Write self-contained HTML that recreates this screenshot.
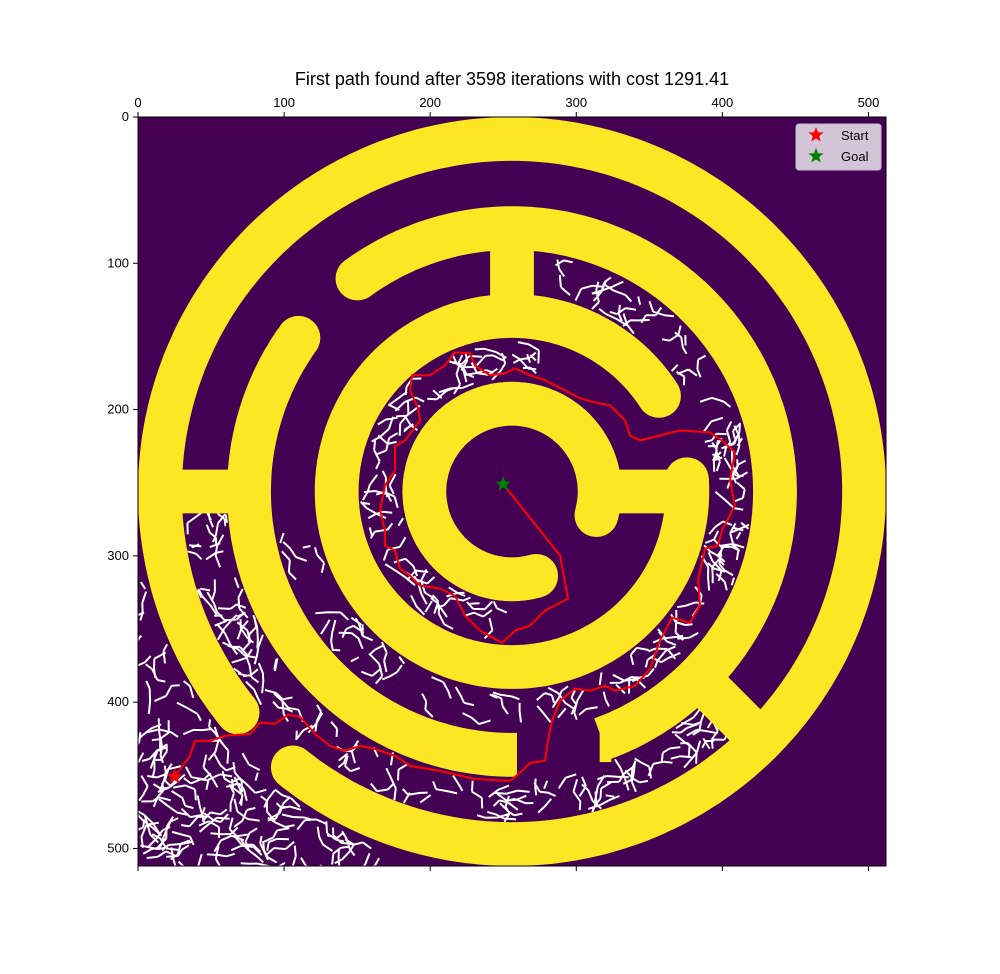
<!DOCTYPE html>
<html><head><meta charset="utf-8"><style>
body{margin:0;background:#fff;}
svg{display:block;font-family:"Liberation Sans","DejaVu Sans",sans-serif;}
</style></head><body>
<svg id="chart" width="1000" height="974" viewBox="0 0 1000 974">
<defs><clipPath id="axclip"><rect x="138" y="117" width="748" height="749"/></clipPath></defs>
<text x="512" y="85" text-anchor="middle" font-size="18" fill="#000">First path found after 3598 iterations with cost 1291.41</text>
<g id="plot" clip-path="url(#axclip)">
<rect x="138" y="117" width="748" height="749" fill="#440154"/>
<g id="tree"></g>
<g id="walls"></g>
<g id="pathg"></g>
</g>
<g id="axes"></g>
<g id="legend">
<rect x="796" y="124" width="85" height="46" rx="3" fill="#dccfe0" stroke="#cccccc" stroke-width="1" opacity="0.95"/>
<polygon id="lgs" fill="#ff0000"/>
<text x="841" y="140" font-size="13" fill="#000">Start</text>
<polygon id="lgg" fill="#008000"/>
<text x="841" y="161" font-size="13" fill="#000">Goal</text>
</g>
</svg>
<script>
const xTicks=[0,100,200,300,400,500];
const yTicks=[0,100,200,300,400,500];
const mazeCenter=[256,256];
const ringRadii=[241,180,120,60];
const wallWidth=30;
// arcs: [radiusIndex, startDeg, endDeg, startCap, endCap]
const arcs=[[0,141.2,488.5,'round','round'],[1,88.9,215.7,'butt','round'],[1,234,430.7,'round','butt'],[2,-4,327,'round','round'],[3,74,375.6,'round','round']];
const bars=[[0,256,90,256],[256,62,256,130],[320,256,378,256]];
const radialBars=[[45,175,245]];
const startPt=[25,451];
const goalPt=[250,251];
const pathX=[25,35.6,39,49.3,59.6,76.7,83.5,93.8,102.7,110.9,121.2,131.4,141.7,152,162.2,175.9,186.2,206.7,230.7,254.6,261.5,268.3,278.6,280.6,283.4,288.9,299.1,309.4,319.7,326.5,340.2,350.5,357.3,365.5,377.8,384.7,383.3,388.1,397,399.7,408.6,405.2,408.6,399.7,391.5,371,357.3,343.6,336.8,333.4,323.1,312.8,302.6,292.3,278.6,268.3,258.1,251.2,241,230.7,227.3,217,210.1,199.9,187.6,186.2,191.7,193,182.8,175.9,175.9,169.1,165.7,169.1,169.1,175.9,179.3,186.2,193,206.7,217,223.8,234.1,249.2,258.1,268.3,278.6,294.3,288.9,250];
const pathY=[451,436.7,426.5,426.5,423,421.7,414,414.8,408.7,410,421.7,429.9,433.3,429.9,432,436.7,443.6,447,452.5,453.8,448.3,441.5,440.1,426.5,412.8,399,390.9,392.2,388.8,392.2,388.8,377.2,358,342.3,345.7,334,317,295,293,282.7,265.6,248.5,229.3,221.1,215.6,214.3,217.7,221.1,217.7,207.4,197.1,195.1,192.3,186.9,180,176.6,171.8,175.2,176.6,169.8,161.5,160.9,169.8,176.6,176.6,186.9,199.2,207.4,221.1,225.2,241.6,251.9,269,282.7,293,296.4,308.7,313.5,320.3,322.4,327.2,340.9,351.1,359.4,351.1,347.7,337.5,329.2,299.8,251];

const NS='http://www.w3.org/2000/svg';
const X0=138,Y0=117,W=748,H=749,N=512;
const sx=v=>X0+v*W/N, sy=v=>Y0+v*H/N, sk=W/N;
function mk(tag,attrs,parent){const e=document.createElementNS(NS,tag);for(const k in attrs)e.setAttribute(k,attrs[k]);parent.appendChild(e);return e;}
const YEL='#fde725';
const walls=document.getElementById('walls');
arcs.forEach((a,i)=>{
  const r=ringRadii[a[0]];let d='';
  for(let t=a[1];t<=a[2]+0.01;t+=1){const rad=t*Math.PI/180;d+=(d?'L':'M')+sx(mazeCenter[0]+r*Math.cos(rad)).toFixed(1)+','+sy(mazeCenter[1]+r*Math.sin(rad)).toFixed(1);}
  const p=mk('path',{d:d,fill:'none',stroke:YEL,'stroke-width':wallWidth*sk,'stroke-linecap':'butt'},walls);
  
  
  [[a[1],a[3]],[a[2],a[4]]].forEach(([t,c])=>{if(c==='round'){const rad=t*Math.PI/180;
    const cc=mk('circle',{cx:sx(mazeCenter[0]+r*Math.cos(rad)),cy:sy(mazeCenter[1]+r*Math.sin(rad)),r:wallWidth*sk/2,fill:YEL},walls);
    
    }});
});
const fe=mk('rect',{x:sx(316),y:sy(411),width:sk*8,height:sk*30,fill:YEL},walls);


bars.forEach(b=>{const l=mk('line',{x1:sx(b[0]),y1:sy(b[1]),x2:sx(b[2]),y2:sy(b[3]),stroke:YEL,'stroke-width':wallWidth*sk},walls);
  
  });
radialBars.forEach(b=>{const rad=b[0]*Math.PI/180;
  const l=mk('line',{x1:sx(mazeCenter[0]+b[1]*Math.cos(rad)),y1:sy(mazeCenter[1]+b[1]*Math.sin(rad)),x2:sx(mazeCenter[0]+b[2]*Math.cos(rad)),y2:sy(mazeCenter[1]+b[2]*Math.sin(rad)),stroke:YEL,'stroke-width':wallWidth*sk},walls);
  
  });

const tree=document.getElementById('tree');
let seed=12345;const rnd=()=>{seed=(seed*1103515245+12345)%2147483648;return seed/2147483648;};
function inRegion(x,y){const dx=x-256,dy=y-256,r=Math.hypot(dx,dy);let a=Math.atan2(dy,dx)*180/Math.PI;
  if(r>257&&x<175&&y>290)return true;
  if(r>196&&r<226&&a>42&&a<178)return true;
  if(r>136&&r<164&&(a>-80&&a<170))return true;
  if(r>76&&r<104&&(a>90||a<-78))return true;
  return false;}
let td='';
for(let c=0;c<2300;c++){
  let x=rnd()*512,y=rnd()*512;if(!inRegion(x,y))continue;
  let ang=rnd()*Math.PI*2;
  for(let s=0;s<3;s++){ang+=(rnd()-0.5)*2.2;const len=5+rnd()*4;const nx=x+len*Math.cos(ang),ny=y+len*Math.sin(ang);
    if(!inRegion(nx,ny))break;td+='M'+sx(x).toFixed(1)+','+sy(y).toFixed(1)+'L'+sx(nx).toFixed(1)+','+sy(ny).toFixed(1);x=nx;y=ny;}
}
const tp=mk('path',{d:td,stroke:'#ffffff','stroke-width':2,fill:'none','stroke-linecap':'butt'},tree);



const pg=document.getElementById('pathg');
const pl=mk('polyline',{points:pathX.map((v,i)=>sx(v).toFixed(1)+','+sy(pathY[i]).toFixed(1)).join(' '),fill:'none',stroke:'#ff0000','stroke-width':2},pg);


function star(cx,cy,R){let p=[];for(let i=0;i<10;i++){const r=i%2?R*0.42:R;const a=-Math.PI/2+i*Math.PI/5;p.push((cx+r*Math.cos(a)).toFixed(1)+','+(cy+r*Math.sin(a)).toFixed(1));}return p.join(' ');}
const s1=mk('polygon',{points:star(sx(startPt[0]),sy(startPt[1]),8),fill:'#ff0000'},pg);


const s2=mk('polygon',{points:star(sx(goalPt[0]),sy(goalPt[1]),8),fill:'#008000'},pg);


document.getElementById('lgs').setAttribute('points',star(816,135,8));
document.getElementById('lgg').setAttribute('points',star(816,156,8));

const ax=document.getElementById('axes');
const fr=mk('rect',{x:X0,y:Y0,width:W,height:H,fill:'none',stroke:'#000','stroke-width':1},ax);


xTicks.forEach(v=>{const x=sx(v);
  mk('line',{x1:x,y1:Y0,x2:x,y2:Y0-5,stroke:'#000'},ax);
  mk('line',{x1:x,y1:Y0+H,x2:x,y2:Y0+H+5,stroke:'#000'},ax);
  const t=mk('text',{x:x,y:Y0-10,'text-anchor':'middle','font-size':13,fill:'#000'},ax);t.textContent=v;
  
  });
yTicks.forEach(v=>{const y=sy(v);
  mk('line',{x1:X0,y1:y,x2:X0-5,y2:y,stroke:'#000'},ax);
  const t=mk('text',{x:X0-9,y:y+4,'text-anchor':'end','font-size':13,fill:'#000'},ax);t.textContent=v;
  
  });
</script>
</body></html>
